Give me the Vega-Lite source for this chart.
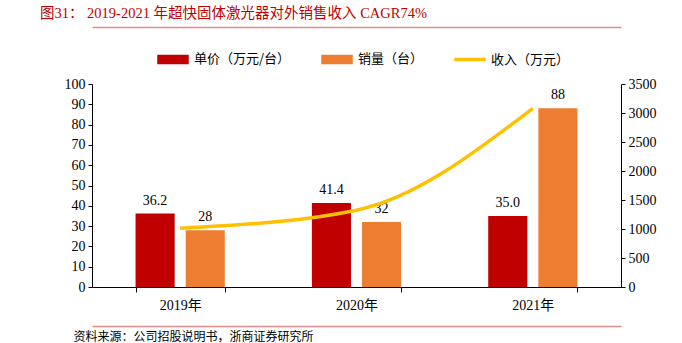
{
  "$schema": "https://vega.github.io/schema/vega-lite/v6.json",
  "width": 529,
  "height": 203,
  "autosize": "none",
  "padding": {"left": 92, "top": 84, "right": 61, "bottom": 56},
  "background": "white",
  "config": {
    "view": {"stroke": null},
    "font": "Liberation Serif, Noto Sans CJK SC",
    "axis": {"labelFont": "Liberation Serif, Noto Sans CJK SC", "titleFont": "Liberation Serif, Noto Sans CJK SC", "labelColor": "#000", "domainColor": "#000", "tickColor": "#000", "grid": false}
  },
  "title": {
    "text": "图31：  2019-2021 年超快固体激光器对外销售收入 CAGR74%",
    "anchor": "start",
    "frame": "group",
    "dx": -52,
    "dy": -6,
    "offset": 0,
    "fontSize": 14.5,
    "fontWeight": "normal",
    "color": "#C00000",
    "font": "Liberation Serif, Noto Sans CJK SC"
  },
  "datasets": {
    "bars": [
      {"year": "2019年", "series": "单价（万元/台）", "value": 36.2, "label": "36.2"},
      {"year": "2019年", "series": "销量（台）", "value": 28, "label": "28"},
      {"year": "2020年", "series": "单价（万元/台）", "value": 41.4, "label": "41.4"},
      {"year": "2020年", "series": "销量（台）", "value": 32, "label": "32"},
      {"year": "2021年", "series": "单价（万元/台）", "value": 35.0, "label": "35.0"},
      {"year": "2021年", "series": "销量（台）", "value": 88, "label": "88"}
    ],
    "rev": [
      {"year": "2019年", "series": "收入（万元）", "revenue": 1013.6},
      {"year": "2020年", "series": "收入（万元）", "revenue": 1324.8},
      {"year": "2021年", "series": "收入（万元）", "revenue": 3080}
    ]
  },
  "layer": [
    {
      "data": {"name": "bars"},
      "layer": [
        {
          "mark": {"type": "bar"},
          "encoding": {
            "x": {"field": "year", "type": "nominal", "sort": null,
              "scale": {"paddingInner": 0.494, "paddingOuter": 0.247},
              "axis": {"title": "资料来源：公司招股说明书，浙商证券研究所", "titleAnchor": "start", "titleX": -19, "titleY": 44, "titleBaseline": "top", "titleFontSize": 12, "titleFontWeight": "normal", "titleColor": "#000", "labelAngle": 0, "labelFontSize": 14, "labelPadding": 6, "tickBand": "extent", "tickSize": 5, "orient": "bottom"}},
            "xOffset": {"field": "series", "type": "nominal", "sort": ["单价（万元/台）", "销量（台）"], "scale": {"paddingInner": 0.22, "paddingOuter": 0}},
            "y": {"field": "value", "type": "quantitative",
              "scale": {"domain": [0, 100]},
              "axis": {"title": null, "orient": "left", "values": [0,10,20,30,40,50,60,70,80,90,100], "labelFontSize": 14, "tickSize": 4, "labelPadding": 3}},
            "color": {"field": "series", "type": "nominal",
              "scale": {"domain": ["单价（万元/台）", "销量（台）", "收入（万元）"], "range": ["#C00000", "#ED7D31", "#FFC000"]},
              "legend": {
                "title": null, "orient": "none", "legendX": 65, "legendY": -41, "direction": "horizontal",
                "symbolSize": 900, "labelFontSize": 13, "labelFont": "Noto Sans CJK SC", "labelColor": "#000", "labelOffset": 5, "columnPadding": 28, "padding": 0,
                "encode": {"symbols": {"update": {
                  "shape": {"signal": "datum.value === '收入（万元）' ? 'M-1,-0.07H1V0.07H-1Z' : 'M-1,-0.27H1V0.27H-1Z'"},
                  "fill": {"signal": "scale('color', datum.value)"},
                  "stroke": {"value": "transparent"},
                  "opacity": {"value": 1},
                  "fillOpacity": {"value": 1}
                }}}
              }}
          }
        },
        {
          "mark": {"type": "text", "baseline": "bottom", "dy": -6, "fontSize": 14, "font": "Liberation Serif", "color": "#000"},
          "encoding": {
            "x": {"field": "year", "type": "nominal", "sort": null,
              "axis": {"title": null, "labels": false, "ticks": false, "orient": "bottom", "offset": 39, "domainColor": "#E38C8C", "domainWidth": 1.5}},
            "xOffset": {"field": "series", "type": "nominal", "sort": ["单价（万元/台）", "销量（台）"]},
            "y": {"field": "value", "type": "quantitative",
              "axis": {"title": null, "orient": "left", "values": [0,10,20,30,40,50,60,70,80,90,100], "labelFontSize": 14, "tickSize": 4, "labelPadding": 3}},
            "text": {"field": "label"}
          }
        }
      ],
      "resolve": {"axis": {"x": "independent"}}
    },
    {
      "data": {"name": "rev"},
      "mark": {"type": "line", "strokeWidth": 3.5, "interpolate": "monotone"},
      "encoding": {
        "x": {"field": "year", "type": "nominal", "sort": null,
          "axis": {"title": null, "labels": false, "ticks": false, "orient": "top", "offset": 57, "domainColor": "#E38C8C", "domainWidth": 1.5}},
        "y": {"field": "revenue", "type": "quantitative",
          "scale": {"domain": [0, 3500]},
          "axis": {"title": null, "orient": "right", "format": "d", "values": [0,500,1000,1500,2000,2500,3000,3500], "labelFontSize": 14, "tickSize": 4, "labelPadding": 3}},
        "color": {"field": "series", "type": "nominal"}
      }
    }
  ],
  "resolve": {"scale": {"y": "independent"}, "axis": {"x": "independent"}}
}
